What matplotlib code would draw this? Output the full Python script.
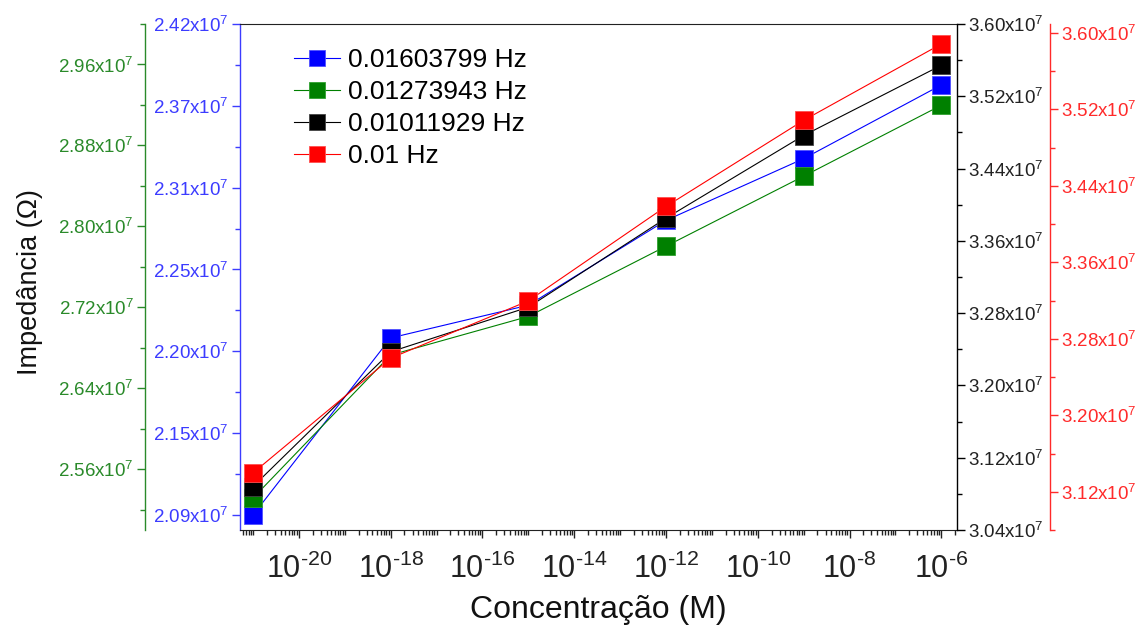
import numpy as np
import matplotlib
matplotlib.use("Agg")
import matplotlib.pyplot as plt
from matplotlib.ticker import FixedLocator, FixedFormatter, LogLocator, FuncFormatter, NullFormatter

plt.rcParams['font.family'] = ['Liberation Sans', 'DejaVu Sans']
plt.rcParams['mathtext.fontset'] = 'custom'
plt.rcParams['mathtext.rm'] = 'Liberation Sans'
plt.rcParams['mathtext.it'] = 'Liberation Sans:italic'
plt.rcParams['mathtext.default'] = 'regular'

# dados
conc = [1e-21, 1e-18, 1e-15, 1e-12, 1e-9, 1e-6]
z_a = [2.090e7, 2.209e7, 2.231e7, 2.288e7, 2.3295e7, 2.379e7]   # 0.01603799 Hz (eixo azul)
z_b = [2.5316e7, 2.6729e7, 2.7110e7, 2.7804e7, 2.8496e7, 2.9197e7]  # 0.01273943 Hz (eixo verde)
z_c = [3.0881e7, 3.2372e7, 3.2866e7, 3.3851e7, 3.4766e7, 3.5543e7]  # 0.01011929 Hz (eixo preto)
z_d = [3.1397e7, 3.2598e7, 3.3197e7, 3.4185e7, 3.5086e7, 3.5885e7]  # 0.01 Hz (eixo vermelho)
nomes = ["0.01603799 Hz", "0.01273943 Hz", "0.01011929 Hz", "0.01 Hz"]

# eixos y: ticks e rotulos
blue_ticks = [2.09, 2.145, 2.20, 2.255, 2.31, 2.365, 2.42]
blue_labels = ["2.09", "2.15", "2.20", "2.25", "2.31", "2.37", "2.42"]
green_ticks = [2.56, 2.64, 2.72, 2.80, 2.88, 2.96]
black_ticks = [3.04, 3.12, 3.20, 3.28, 3.36, 3.44, 3.52, 3.60]
red_ticks = [3.12, 3.20, 3.28, 3.36, 3.44, 3.52, 3.60]

c_blue = "#0000ff"
c_green = "#008000"
c_black = "#000000"
c_red = "#ff0000"
c_blue_ax = "#3c3cff"
c_green_ax = "#2a8a2a"
c_red_ax = "#ff2a2a"

fig = plt.figure(figsize=(11.43, 6.32), dpi=100)
ax = fig.add_axes([240/1143, 1-530/632, 717/1143, 506/632])
ax.set_xscale("log")
ax.set_xlim(5.2e-22, 2.2e-6)

axG = ax.twinx()
axK = ax.twinx()
axR = ax.twinx()


def fmt(v):
    return "%sx10$^{7}$" % v


def y_axis(a, side, color, lim, ticks, labels, minors):
    a.set_ylim(lim[0]*1e7, lim[1]*1e7)
    a.yaxis.set_major_locator(FixedLocator([t*1e7 for t in ticks]))
    a.yaxis.set_major_formatter(FixedFormatter([fmt(l) for l in labels]))
    a.yaxis.set_minor_locator(FixedLocator([t*1e7 for t in minors]))
    a.tick_params(axis="y", which="both", direction="out", colors=color,
                  labelsize=13.5, width=1, pad=2)
    a.tick_params(axis="y", which="major", length=6)
    a.tick_params(axis="y", which="minor", length=3.5)
    if side == "left":
        a.yaxis.tick_left()
    else:
        a.yaxis.tick_right()
    a.spines[side].set_color(color)
    a.spines[side].set_linewidth(1)


# eixo principal (azul)
y_axis(ax, "left", c_blue_ax, (2.0799, 2.42), blue_ticks, blue_labels,
       [(blue_ticks[i] + blue_ticks[i+1])/2 for i in range(6)])
ax.spines["top"].set_color("#222222")
ax.spines["right"].set_visible(False)
ax.spines["bottom"].set_color("#222222")

# eixo verde
y_axis(axG, "left", c_green_ax, (2.5, 3.0), green_ticks, ["%.2f" % t for t in green_ticks],
       [2.52, 2.60, 2.68, 2.76, 2.84, 2.92, 3.00])
axG.spines["left"].set_position(("axes", -95/717))
axG.spines["left"].set_visible(True)
for s in ["right", "top", "bottom"]:
    axG.spines[s].set_visible(False)

# eixo preto
y_axis(axK, "right", c_black, (3.04, 3.60), black_ticks, ["%.2f" % t for t in black_ticks],
       [3.08, 3.16, 3.24, 3.32, 3.40, 3.48, 3.56])
for s in ["left", "top", "bottom"]:
    axK.spines[s].set_visible(False)
axK.tick_params(axis="y", labelcolor="#222222")

# eixo vermelho
y_axis(axR, "right", c_red_ax, (3.08, 3.6094), red_ticks, ["%.2f" % t for t in red_ticks],
       [3.08, 3.16, 3.24, 3.32, 3.40, 3.48, 3.56])
axR.spines["right"].set_position(("axes", 1 + 93/717))
for s in ["left", "top", "bottom"]:
    axR.spines[s].set_visible(False)

# eixo x log
ax.xaxis.set_major_locator(LogLocator(base=100, numticks=20))
ax.xaxis.set_minor_locator(LogLocator(base=10, subs=np.arange(1, 10), numticks=40))
ax.xaxis.set_minor_formatter(NullFormatter())
ax.xaxis.set_major_formatter(FuncFormatter(lambda v, p: "10$^{\\text{-}%d}$" % abs(round(np.log10(v)))))
ax.tick_params(axis="x", which="both", direction="out", colors="#222222", width=1)
ax.tick_params(axis="x", which="major", length=6, labelsize=22, pad=11)
ax.tick_params(axis="x", which="minor", length=3.5)

ms = 12.5
h1, = ax.plot(conc, z_a, "-s", color=c_blue, lw=0.8, ms=ms, mec="#5050ff", mew=0.6, label=nomes[0], clip_on=False)
h2, = axG.plot(conc, z_b, "-s", color=c_green, lw=0.8, ms=ms, mec="#30a030", mew=0.6, label=nomes[1], clip_on=False)
h3, = axK.plot(conc, z_c, "-s", color=c_black, lw=0.8, ms=ms, mec="#444444", mew=0.6, label=nomes[2], clip_on=False)
h4, = axR.plot(conc, z_d, "-s", color=c_red, lw=0.8, ms=ms, mec="#ff5050", mew=0.6, label=nomes[3], clip_on=False)

axR.legend(handles=[h1, h2, h3, h4], loc="upper left", bbox_to_anchor=(294/1143, 1-48/632),
           bbox_transform=fig.transFigure, frameon=False, fontsize=19, markerscale=0.95,
           handlelength=1.75, handletextpad=0.3, labelspacing=0.3, borderpad=0, borderaxespad=0)

fig.text(598/1143, 1-610/632, "Concentração (M)", fontsize=23, ha="center", va="center", color="#111111")
fig.text(30/1143, 1-282/632, "Impedância (Ω)", fontsize=19.5, rotation=90, ha="center", va="center", color="#111111")

fig.savefig("out.png", dpi=100)
